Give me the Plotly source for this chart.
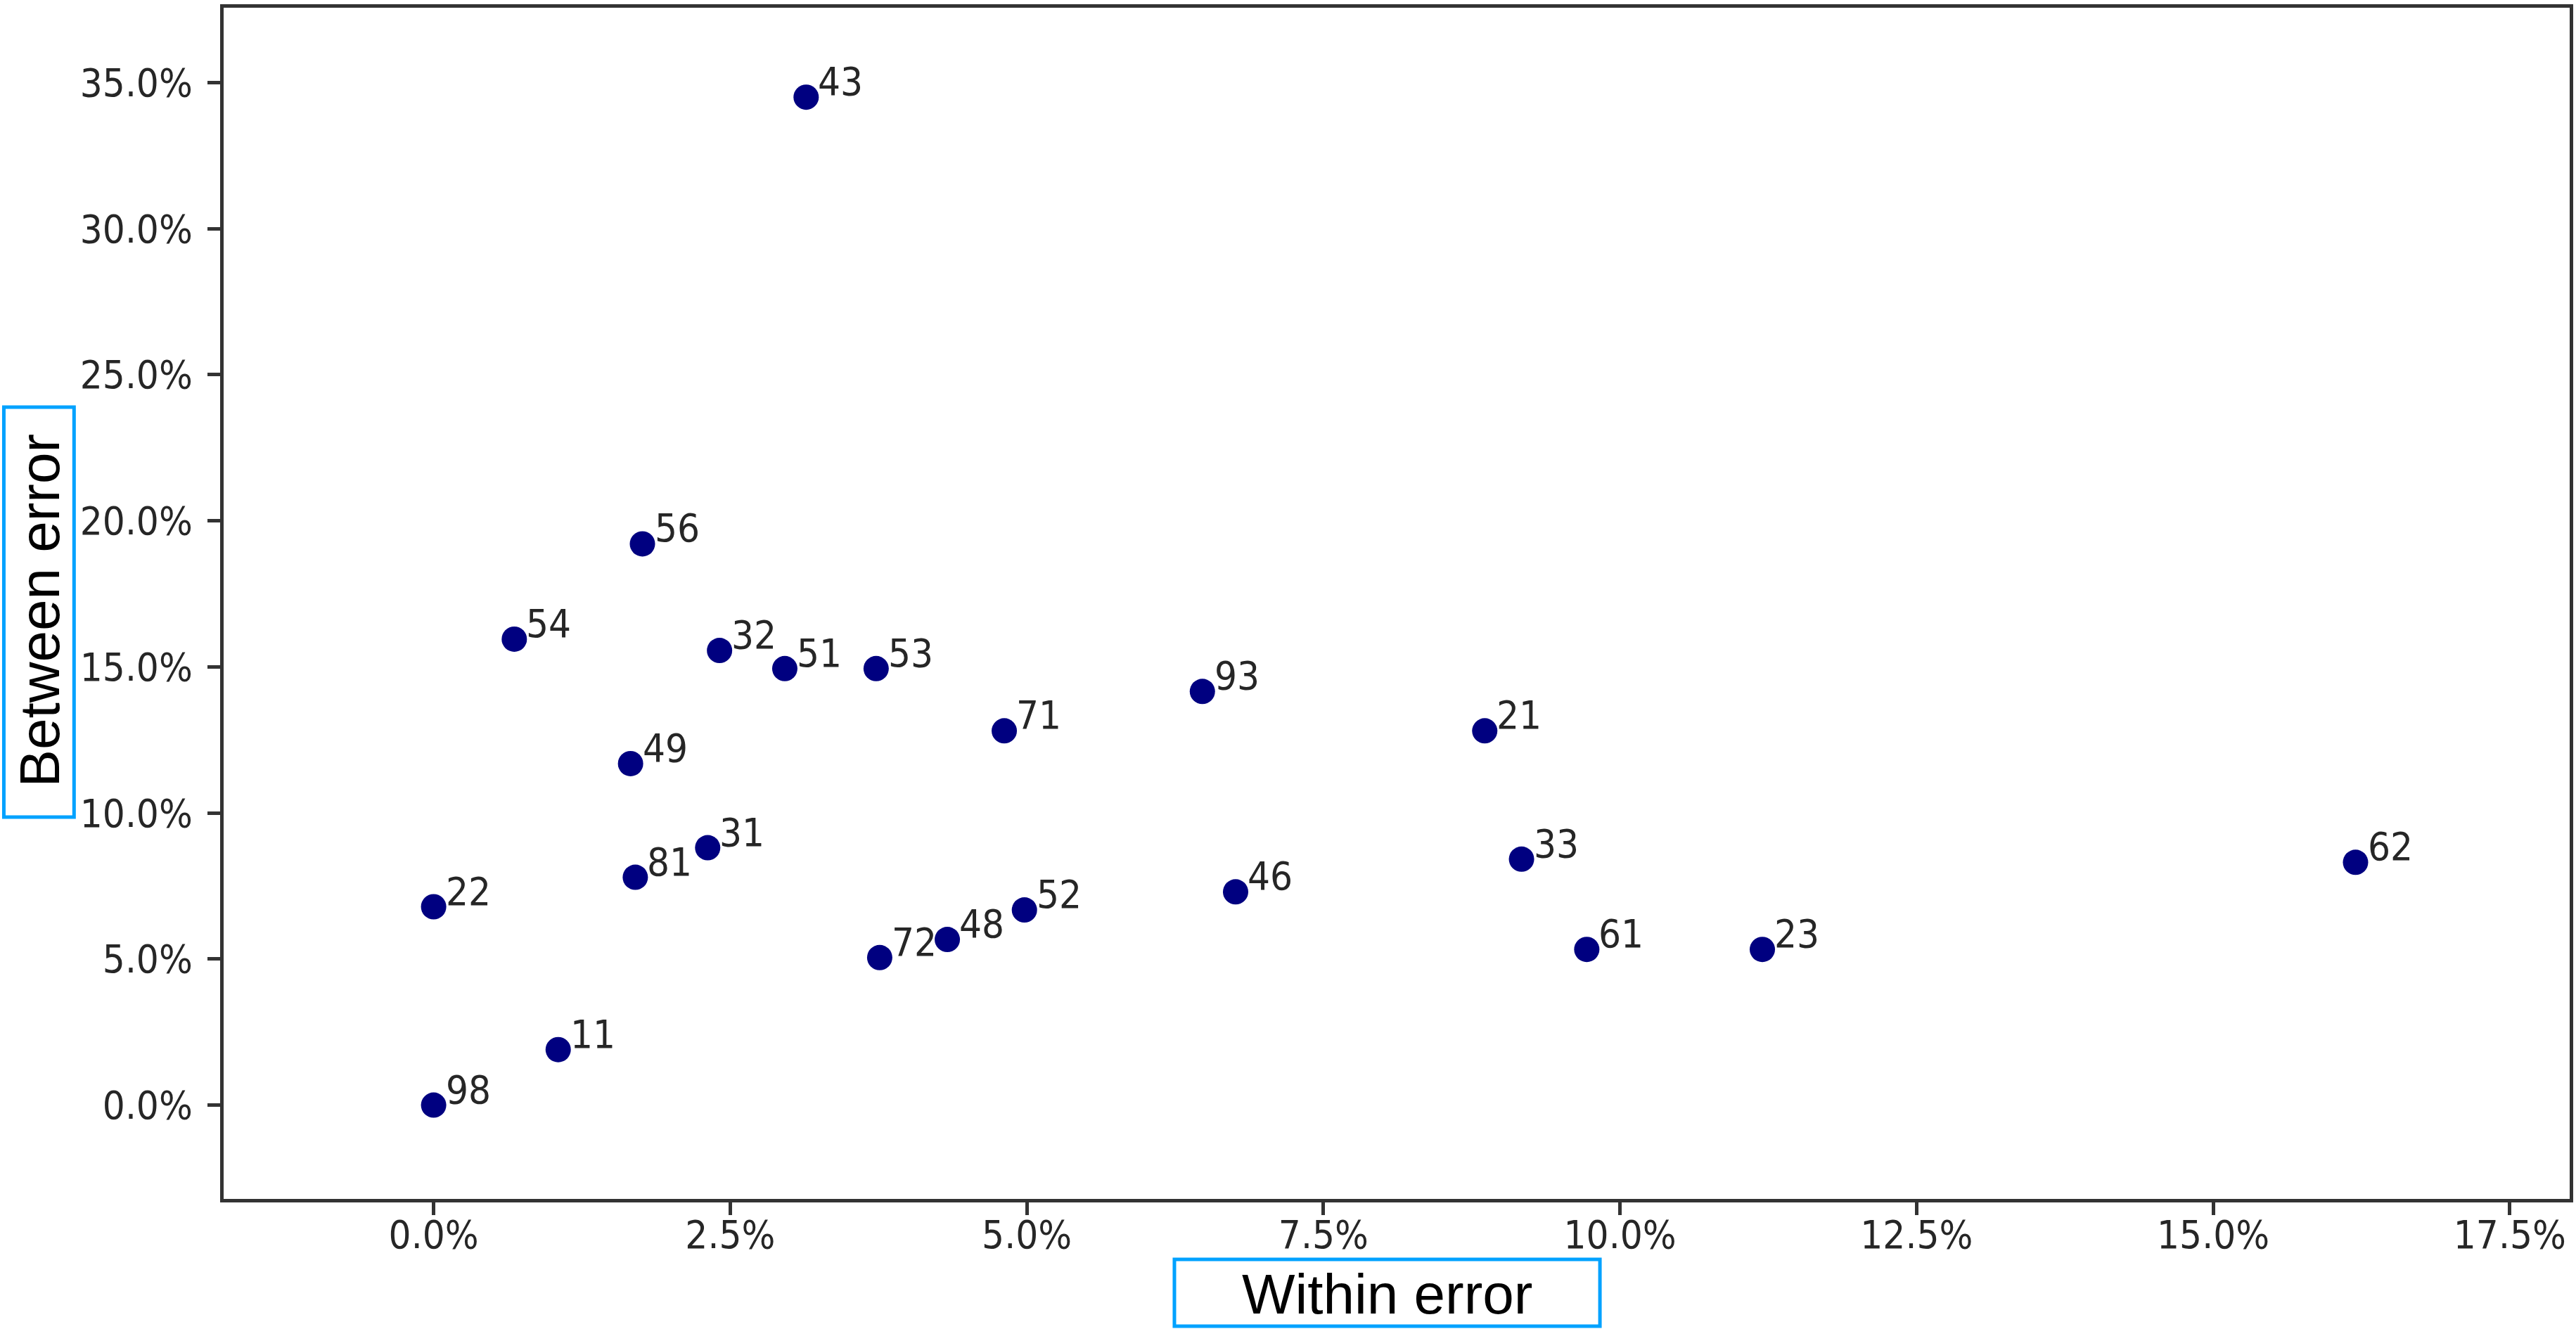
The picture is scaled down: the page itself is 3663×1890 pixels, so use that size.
import plotly.graph_objects as go

# ---- data (fractions) ----
labels = ["43", "56", "54", "32", "51", "53", "93", "71", "21", "49", "31",
          "81", "22", "33", "62", "46", "52", "48", "72", "61", "23", "11", "98"]
within_error = [0.0314, 0.0176, 0.0068, 0.0241, 0.0296, 0.0373, 0.0648, 0.0481,
                0.0886, 0.0166, 0.0231, 0.0170, 0.0000, 0.0917, 0.1620, 0.0676,
                0.0498, 0.0433, 0.0376, 0.0972, 0.1120, 0.0105, 0.0000]
between_error = [0.3450, 0.1921, 0.1595, 0.1556, 0.1494, 0.1494, 0.1416, 0.1281,
                 0.1281, 0.1169, 0.0881, 0.0780, 0.0679, 0.0842, 0.0831, 0.0730,
                 0.0668, 0.0567, 0.0505, 0.0533, 0.0533, 0.0190, 0.0000]
x_ticks = [0.0, 0.025, 0.05, 0.075, 0.10, 0.125, 0.15, 0.175]
y_ticks = [0.0, 0.05, 0.10, 0.15, 0.20, 0.25, 0.30, 0.35]
x_title = "Within error"
y_title = "Between error"

W, H = 3663, 1890
L, R, T, B = 318, 4, 11, 185
PW, PH = W - L - R, H - T - B

def px_to_paper_x(px):
    return (px - L) / PW

def px_to_paper_y(py):
    return (H - B - py) / PH

TICK_FONT = dict(family="DejaVu Sans Condensed, DejaVu Sans", size=56, color="#262626")
AXIS_COLOR = "#333333"
BOX_COLOR = "#00A2FF"

fig = go.Figure()
fig.add_trace(go.Scatter(
    x=within_error, y=between_error, mode="markers",
    marker=dict(size=36, color="#000080", line=dict(width=0)),
    hoverinfo="skip", showlegend=False,
))

for lab, xv, yv in zip(labels, within_error, between_error):
    fig.add_annotation(x=xv, y=yv, text=lab, showarrow=False,
                       xanchor="left", yanchor="bottom", xshift=15, yshift=-12,
                       font=TICK_FONT)

axis_common = dict(showline=True, linewidth=5, linecolor=AXIS_COLOR, mirror=True,
                   ticks="outside", ticklen=18, tickwidth=5, tickcolor=AXIS_COLOR,
                   showgrid=False, zeroline=False, tickfont=TICK_FONT,
                   tickformat=".1%")

fig.update_xaxes(range=[-0.01770, 0.18005], tickvals=x_ticks,
                 ticklabelstandoff=-20, **axis_common)
fig.update_yaxes(range=[-0.0321, 0.3756], tickvals=y_ticks,
                 ticklabelstandoff=10, **axis_common)

# axis titles with boxes
TITLE_FONT = dict(family="Liberation Sans, Arial", size=80, color="#000000")
fig.add_shape(type="rect", xref="paper", yref="paper",
              x0=px_to_paper_x(5), x1=px_to_paper_x(105),
              y0=px_to_paper_y(1162), y1=px_to_paper_y(579),
              line=dict(color=BOX_COLOR, width=5), fillcolor="rgba(0,0,0,0)")
fig.add_annotation(xref="paper", yref="paper", x=px_to_paper_x(56), y=px_to_paper_y(868),
                   text=y_title, textangle=-90, showarrow=False,
                   xanchor="center", yanchor="middle", font=TITLE_FONT)
fig.add_shape(type="rect", xref="paper", yref="paper",
              x0=px_to_paper_x(1672), x1=px_to_paper_x(2278),
              y0=px_to_paper_y(1886), y1=px_to_paper_y(1791),
              line=dict(color=BOX_COLOR, width=5), fillcolor="rgba(0,0,0,0)")
fig.add_annotation(xref="paper", yref="paper", x=px_to_paper_x(1975), y=px_to_paper_y(1840),
                   text=x_title, showarrow=False,
                   xanchor="center", yanchor="middle", font=TITLE_FONT)

fig.update_layout(width=W, height=H, margin=dict(l=L, r=R, t=T, b=B, pad=0),
                  paper_bgcolor="white", plot_bgcolor="white")

fig.write_html("out.html")
